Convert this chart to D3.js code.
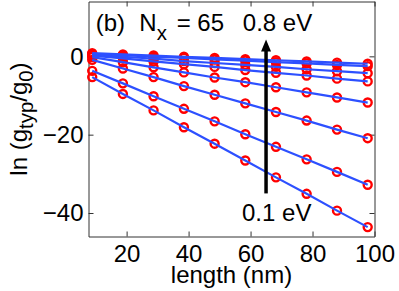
<!DOCTYPE html>
<html><head><meta charset="utf-8">
<script src="https://cdn.jsdelivr.net/npm/d3@7"></script>
<style>
body{margin:0;background:#fff}
svg{display:block}
text{font-family:"Liberation Sans",Arial,Helvetica,sans-serif;fill:#000}
</style>
</head><body>
<svg id="chart" width="399" height="291"></svg>
<script>
// ---- data ----
const lengths = [8.9, 18.8, 28.7, 38.5, 48.4, 58.3, 68.2, 78.1, 87.9, 97.8];
const energies = ["0.1 eV","0.2 eV","0.3 eV","0.4 eV","0.5 eV","0.6 eV","0.7 eV","0.8 eV"];
const lnG_01 = [-5.3, -9.6, -13.8, -18.1, -22.3, -26.6, -30.9, -35.1, -39.4, -43.6];
const lnG_02 = [-3.7, -6.9, -10.2, -13.4, -16.6, -19.9, -23.1, -26.3, -29.5, -32.8];
const lnG_03 = [-0.9, -3.1, -5.3, -7.6, -9.8, -12.0, -14.2, -16.4, -18.7, -20.9];
const lnG_04 = [-0.2, -1.5, -2.8, -4.1, -5.4, -6.6, -7.9, -9.2, -10.5, -11.8];
const lnG_05 = [0.2, -0.5, -1.3, -2.0, -2.7, -3.5, -4.2, -4.9, -5.7, -6.4];
const lnG_06 = [0.4, -0.1, -0.6, -1.2, -1.7, -2.2, -2.7, -3.3, -3.8, -4.3];
const lnG_07 = [0.6, 0.3, -0.1, -0.4, -0.8, -1.1, -1.5, -1.8, -2.2, -2.5];
const lnG_08 = [0.8, 0.5, 0.2, -0.1, -0.4, -0.7, -1.0, -1.3, -1.6, -1.9];
const xTicks = [20, 40, 60, 80, 100];
const yTicks = [-40, -20, 0];
const arrowX = 65, arrowFrom = -35, arrowTo = 4.3;

const series = [lnG_01, lnG_02, lnG_03, lnG_04, lnG_05, lnG_06, lnG_07, lnG_08];

const svg = d3.select("#chart");
const L = 88.5, R = 374.5, T = 1.5, B = 236.5;
const x = d3.scaleLinear().domain([7.7, 100]).range([L, R]);
const y = d3.scaleLinear().domain([-46, 14]).range([B, T]);
const FS = 24, SUB = 0.85;

// axes (inward ticks, boxed)
const axisColor = "#333";
function styleAxis(g){
  g.select(".domain").attr("stroke", axisColor).attr("stroke-width", 1);
  g.selectAll(".tick line").attr("stroke", axisColor).attr("stroke-width", 1);
  g.selectAll(".tick text").attr("font-size", FS).attr("font-family", '"Liberation Sans",Arial,sans-serif').attr("fill","#000");
}
svg.append("g").attr("transform", `translate(0,${B})`)
  .call(d3.axisBottom(x).tickValues(xTicks).tickSize(-5).tickPadding(8.5).tickSizeOuter(0))
  .call(styleAxis);
svg.append("g").attr("transform", `translate(0,${T})`)
  .call(d3.axisTop(x).tickValues(xTicks).tickSize(-5).tickFormat("").tickSizeOuter(0))
  .call(styleAxis);
svg.append("g").attr("transform", `translate(${L},0)`)
  .call(d3.axisLeft(y).tickValues(yTicks).tickSize(-5).tickPadding(5).tickSizeOuter(0))
  .call(styleAxis);
svg.append("g").attr("transform", `translate(${R},0)`)
  .call(d3.axisRight(y).tickValues(yTicks).tickSize(-5).tickFormat("").tickSizeOuter(0))
  .call(styleAxis);

// markers
const plot = svg.append("g");
series.forEach(s => {
  plot.append("g").selectAll("circle").data(s).join("circle")
    .attr("cx", (d,i) => x(lengths[i])).attr("cy", d => y(d)).attr("r", 4)
    .attr("fill", "none").attr("stroke", "#ff0000").attr("stroke-width", 2.4);
});
// lines
const line = d3.line().x((d,i) => x(lengths[i])).y(d => y(d));
series.forEach(s => {
  plot.append("path").datum(s).attr("d", line)
    .attr("fill", "none").attr("stroke", "#2d50ff").attr("stroke-width", 2.2);
});

// arrow
svg.append("line").attr("x1", x(arrowX)).attr("x2", x(arrowX))
  .attr("y1", y(arrowFrom)).attr("y2", y(arrowTo) + 10)
  .attr("stroke","#000").attr("stroke-width",3.5);
svg.append("path")
  .attr("d", `M${x(arrowX)-5},${y(arrowTo)+12} L${x(arrowX)},${y(arrowTo)} L${x(arrowX)+5},${y(arrowTo)+12} Z`)
  .attr("fill","#000");

// annotations
svg.append("text").attr("x", 277.5).attr("y", 31).attr("text-anchor","middle").attr("font-size", FS).text(energies[7]);
svg.append("text").attr("x", 276.7).attr("y", 221).attr("text-anchor","middle").attr("font-size", FS).text(energies[0]);
const t = svg.append("text").attr("y", 31).attr("font-size", FS);
t.append("tspan").attr("x", 95.7).text("(b)");
t.append("tspan").attr("x", 139.3).text("N");
t.append("tspan").attr("dy", 9).attr("font-size", FS*SUB).text("x");
t.append("tspan").attr("x", 176.7).attr("dy", -9).text("= 65");

// axis labels
svg.append("text").attr("x", (L+R)/2).attr("y", 283).attr("text-anchor","middle").attr("font-size", FS).text("length (nm)");
const yl = svg.append("text").attr("transform", `translate(27,${(T+B)/2}) rotate(-90)`).attr("text-anchor","middle").attr("font-size", FS);
yl.append("tspan").text("ln (g");
yl.append("tspan").attr("dy", 6).attr("font-size", FS*SUB).text("typ");
yl.append("tspan").attr("dy", -6).text("/g");
yl.append("tspan").attr("dy", 6).attr("font-size", FS*SUB).text("0");
yl.append("tspan").attr("dy", -6).text(")");
</script>
</body></html>
